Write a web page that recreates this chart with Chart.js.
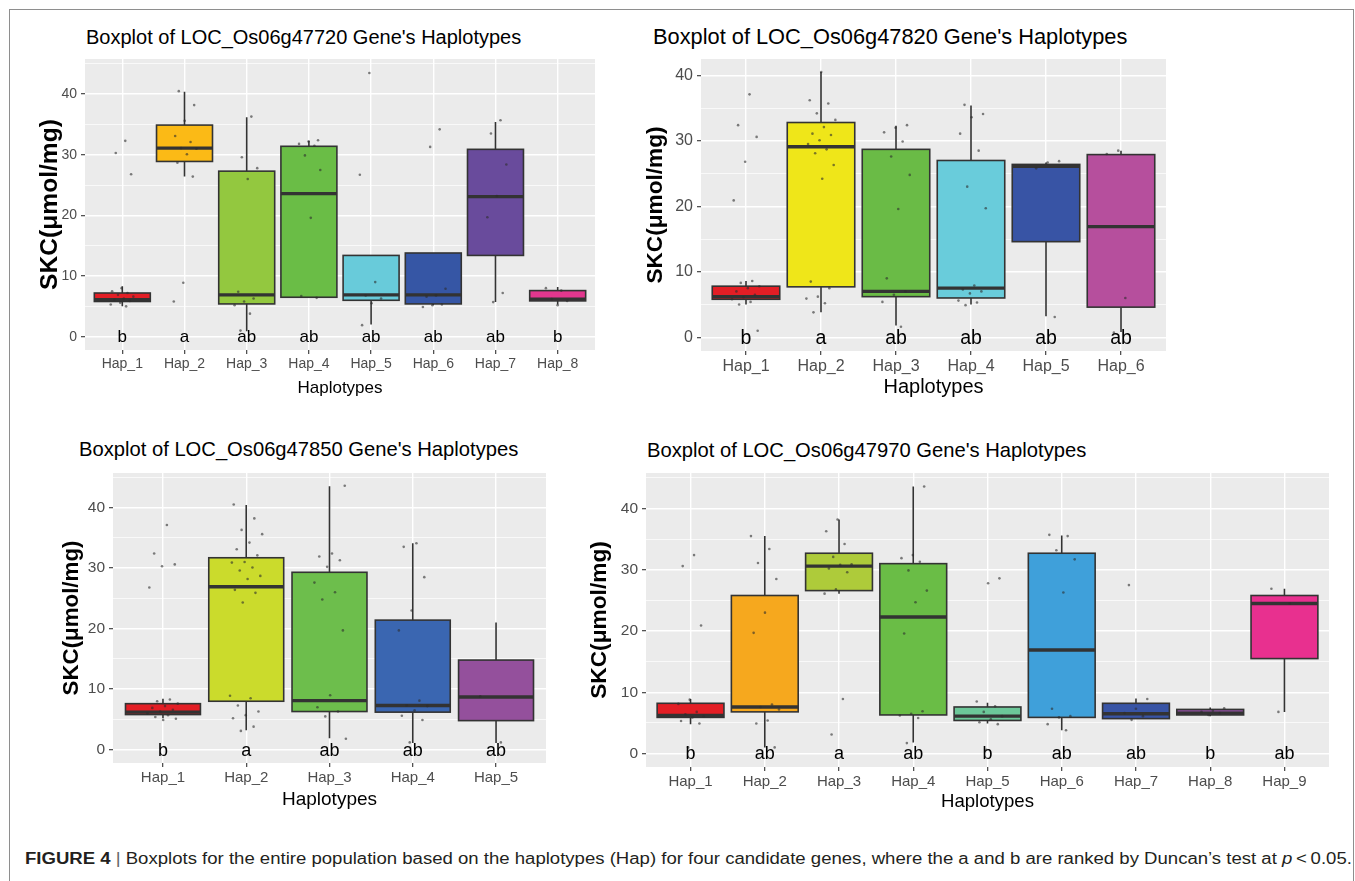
<!DOCTYPE html>
<html>
<head>
<meta charset="utf-8">
<script src="https://cdn.jsdelivr.net/npm/chart.js@4.4.0/dist/chart.umd.min.js"></script>
<style>
  body { margin: 0; background: #fff; width: 1355px; height: 881px; overflow: hidden; position: relative;
         font-family: "Liberation Sans", Arial, sans-serif; }
  .frame { position: absolute; left: 9px; top: 9px; width: 1345px; height: 900px; border: 1px solid #8e8e8e; box-sizing: border-box; }
  canvas { position: absolute; }
  .title { position: absolute; white-space: nowrap; color: #000; line-height: 1; }
  #caption { position: absolute; left: 25px; top: 851px; white-space: nowrap; font-size: 16px; line-height: 1;
             color: #231f20; transform-origin: 0 0; }
  #caption .bar { color: #666; }
</style>
</head>
<body>
<div class="frame"></div>

<div class="title" style="left:86px;top:27px;font-size:20px">Boxplot of LOC_Os06g47720 Gene's Haplotypes</div>
<div class="title" style="left:653px;top:26px;font-size:21.8px">Boxplot of LOC_Os06g47820 Gene's Haplotypes</div>
<div class="title" style="left:79px;top:439px;font-size:20.2px">Boxplot of LOC_Os06g47850 Gene's Haplotypes</div>
<div class="title" style="left:647px;top:440px;font-size:20.2px">Boxplot of LOC_Os06g47970 Gene's Haplotypes</div>

<canvas id="c1" width="570" height="380" style="left:30px;top:20px"></canvas>
<canvas id="c2" width="544" height="380" style="left:636px;top:20px"></canvas>
<canvas id="c3" width="510" height="385" style="left:50px;top:430px"></canvas>
<canvas id="c4" width="765" height="385" style="left:580px;top:430px"></canvas>

<div id="caption"><b>FIGURE 4</b>&nbsp;<span class="bar">|</span>&nbsp;Boxplots for the entire population based on the haplotypes (Hap) for four candidate genes, where the a and b are ranked by Duncan’s test at <i>p</i>&thinsp;&lt;&thinsp;0.05.</div>

<script>
Chart.defaults.font.family = '"Liberation Sans", Arial, sans-serif'

// ---- data ----
const haps8 = ['Hap_1', 'Hap_2', 'Hap_3', 'Hap_4', 'Hap_5', 'Hap_6', 'Hap_7', 'Hap_8']
const haps6 = ['Hap_1', 'Hap_2', 'Hap_3', 'Hap_4', 'Hap_5', 'Hap_6']
const haps5 = ['Hap_1', 'Hap_2', 'Hap_3', 'Hap_4', 'Hap_5']
const haps9 = ['Hap_1', 'Hap_2', 'Hap_3', 'Hap_4', 'Hap_5', 'Hap_6', 'Hap_7', 'Hap_8', 'Hap_9']
const yTicks = [0, 10, 20, 30, 40]

// LOC_Os06g47720
const g720Low = [5.0, 26.4, 0.9, 6.4, 2.0, 5.2, 5.7, 5.3]
const g720Q1 = [5.8, 28.9, 5.4, 6.5, 6.0, 5.4, 13.4, 5.9]
const g720Med = [6.1, 31.1, 6.9, 23.6, 6.9, 6.9, 23.1, 6.2]
const g720Q3 = [7.2, 34.9, 27.3, 31.4, 13.4, 13.8, 30.9, 7.6]
const g720High = [8.3, 40.4, 36.2, 32.3, 13.4, 13.8, 35.4, 8.2]
const g720Letters = ['b', 'a', 'ab', 'ab', 'ab', 'ab', 'ab', 'b']
const g720Points = [
    [32.3, 30.3, 26.8, 8.0, 7.5, 7.2, 6.9, 6.6, 6.3, 6.1, 5.9, 5.6, 5.3, 5.0],
    [40.5, 38.2, 35.6, 33.1, 32.1, 31.1, 31.0, 30.1, 28.7, 26.4, 8.9, 5.8],
    [36.3, 29.6, 27.8, 26.0, 7.4, 6.3, 5.8, 5.2, 3.8, 1.0],
    [32.4, 32.2, 31.8, 31.5, 29.9, 27.5, 19.6, 6.7, 6.4],
    [43.5, 26.7, 9.0, 6.8, 6.3, 5.5, 1.9],
    [34.2, 31.3, 7.9, 6.8, 6.6, 5.3, 5.2, 4.9],
    [35.7, 33.5, 28.4, 23.2, 19.7, 7.2, 5.7],
    [8.0, 7.6, 6.2, 5.9, 5.2]
]

// LOC_Os06g47820
const g820Low = [5.0, 3.8, 1.8, 5.0, 3.2, 0.8]
const g820Q1 = [5.8, 7.7, 6.2, 6.0, 14.6, 4.6]
const g820Med = [6.2, 29.1, 7.0, 7.5, 26.1, 16.9]
const g820Q3 = [7.8, 32.8, 28.7, 27.0, 26.4, 27.9]
const g820High = [8.6, 40.5, 32.3, 35.4, 26.7, 28.5]
const g820Letters = ['b', 'a', 'ab', 'ab', 'ab', 'ab']
const g820Points = [
    [37.1, 32.4, 30.6, 26.8, 20.9, 8.6, 8.3, 7.8, 7.5, 7.0, 6.5, 6.1, 5.8, 5.4, 5.0, 1.0],
    [40.5, 36.2, 35.7, 34.2, 33.2, 32.1, 31.1, 30.9, 30.1, 29.5, 28.7, 28.1, 26.3, 24.2, 8.5, 7.5, 6.2, 5.9, 5.2, 3.8],
    [32.4, 32.0, 31.3, 29.9, 27.6, 24.8, 19.6, 9.0, 7.0, 6.5, 5.4, 1.6],
    [35.5, 34.1, 33.6, 31.1, 28.5, 23.0, 19.7, 7.9, 7.3, 7.0, 6.7, 5.6, 5.3, 4.9],
    [26.9, 26.7, 25.8, 3.1],
    [28.5, 28.0, 6.0, 0.7]
]

// LOC_Os06g47850
const g850Low = [5.2, 3.2, 1.9, 1.1, 1.1]
const g850Q1 = [5.8, 8.0, 6.3, 6.2, 4.8]
const g850Med = [6.2, 26.9, 8.1, 7.3, 8.7]
const g850Q3 = [7.6, 31.7, 29.3, 21.4, 14.8]
const g850High = [8.4, 40.4, 43.5, 34.1, 21.0]
const g850Letters = ['b', 'a', 'ab', 'ab', 'ab']
const g850Points = [
    [37.1, 32.4, 30.6, 30.3, 26.8, 8.3, 8.0, 7.6, 7.2, 6.9, 6.6, 6.3, 6.0, 5.7, 5.4, 5.1, 4.9],
    [40.5, 38.2, 36.3, 35.6, 34.2, 33.1, 32.1, 31.0, 30.9, 30.1, 29.6, 28.7, 28.2, 26.4, 25.9, 24.3, 8.9, 8.5, 7.3, 6.3, 5.7, 5.2, 3.8, 3.1],
    [43.6, 32.4, 31.9, 31.3, 30.2, 27.6, 26.0, 24.8, 19.7, 9.0, 7.0, 6.3, 5.5, 1.8],
    [34.1, 33.5, 28.5, 23.0, 19.7, 8.1, 7.3, 7.2, 6.5, 5.6, 4.9, 1.2],
    [8.8, 1.2]
]

// LOC_Os06g47970
const g970Low = [4.8, 1.0, 26.1, 1.8, 4.9, 3.8, 5.7, 6.1, 6.8]
const g970Q1 = [5.9, 6.8, 26.6, 6.3, 5.4, 5.9, 5.7, 6.3, 15.5]
const g970Med = [6.2, 7.6, 30.6, 22.3, 6.1, 16.9, 6.5, 6.6, 24.5]
const g970Q3 = [8.2, 25.8, 32.7, 31.0, 7.6, 32.7, 8.2, 7.2, 25.8]
const g970High = [8.9, 35.5, 38.2, 43.6, 8.3, 35.6, 9.0, 7.5, 26.9]
const g970Letters = ['b', 'ab', 'a', 'ab', 'b', 'ab', 'ab', 'b', 'ab']
const g970Points = [
    [32.4, 30.6, 20.9, 8.8, 8.1, 6.8, 6.4, 6.1, 5.9, 5.3, 4.9, 1.0],
    [35.5, 33.4, 31.1, 28.5, 23.0, 19.7, 8.0, 7.6, 7.2, 5.4, 4.9, 1.0],
    [38.2, 36.3, 34.2, 32.1, 30.9, 30.8, 30.2, 29.6, 26.8, 26.1, 8.9, 3.1],
    [43.6, 32.4, 31.9, 31.3, 29.9, 26.6, 24.7, 19.6, 6.9, 6.5, 6.2, 5.8, 1.7],
    [28.6, 27.8, 8.5, 7.7, 6.8, 6.1, 5.6, 5.1, 4.8, 0.6],
    [35.7, 35.5, 33.2, 31.7, 26.3, 7.3, 6.1, 5.9, 4.8, 3.8],
    [27.5, 8.9, 7.3, 6.6, 6.1, 5.5],
    [7.4, 7.0, 6.8, 6.6, 6.3],
    [26.9, 24.5, 6.8]
]

// fill colours
const red = '#E31E25'
const g720Colors = [red, '#FBBA16', '#93C83F', '#6ABD46', '#68CBDA', '#3656A5', '#694B9C', '#E2378E']
const g820Colors = [red, '#EFE619', '#6ABB46', '#69CCDB', '#3854A5', '#B64F9D']
const g850Colors = [red, '#CBDB2C', '#6DBE4C', '#3A66B1', '#94509C']
const g970Colors = [red, '#F6A81E', '#AECB3A', '#6ABD46', '#6CC799', '#3FA0DA', '#3854A5', '#8E4F9E', '#E8308F']

// is the narrow face installed? (axis titles are condensed in the figure)
function hasFont(name) {
    const ctx = document.createElement('canvas').getContext('2d')
    const s = 'SKC(mol/mg) Hap_1 wwwiii'
    ctx.font = '40px monospace'
    const a = ctx.measureText(s).width
    ctx.font = '40px "' + name + '", monospace'
    return Math.abs(ctx.measureText(s).width - a) > 1
}
const NARROW = hasFont('Liberation Sans Narrow')
const yTitleFamily = NARROW ? '"Liberation Sans Narrow", "Liberation Sans", sans-serif' : '"Liberation Sans", sans-serif'
const yTitleScale = NARROW ? 1 : 0.82

// spread of the jittered dots (ggplot geom_jitter look), deterministic
const jitter = k => ((((k + 1) * 0.6180339887) % 1) - 0.5) * 0.4

// draws boxes, whiskers, medians and the Duncan letters through the chart's scales
function boxPlugin(s) {
    return {
        id: 'boxes',
        beforeDraw(chart) {
            const { ctx, chartArea: a } = chart
            ctx.save()
            ctx.fillStyle = '#EBEBEB'
            ctx.fillRect(a.left, a.top, a.right - a.left, a.bottom - a.top)
            ctx.restore()
        },
        beforeDatasetsDraw(chart) {
            const { ctx, scales: { x, y } } = chart
            ctx.save()
            ctx.strokeStyle = '#333333'
            s.q1.forEach((q1, i) => {
                const xc = x.getPixelForValue(i)
                const xl = x.getPixelForValue(i - 0.45)
                const xr = x.getPixelForValue(i + 0.45)
                const yLow = y.getPixelForValue(s.low[i])
                const yQ1 = y.getPixelForValue(q1)
                const yMed = y.getPixelForValue(s.med[i])
                const yQ3 = y.getPixelForValue(s.q3[i])
                const yHigh = y.getPixelForValue(s.high[i])
                // whiskers
                ctx.lineWidth = 1.6
                ctx.beginPath()
                ctx.moveTo(xc, yHigh); ctx.lineTo(xc, yQ3)
                ctx.moveTo(xc, yQ1); ctx.lineTo(xc, yLow)
                ctx.stroke()
                // box
                ctx.fillStyle = s.colors[i]
                ctx.fillRect(xl, yQ3, xr - xl, yQ1 - yQ3)
                ctx.lineWidth = 1.6
                ctx.strokeRect(xl, yQ3, xr - xl, yQ1 - yQ3)
                // median
                ctx.lineWidth = 3.4
                ctx.beginPath()
                ctx.moveTo(xl, yMed); ctx.lineTo(xr, yMed)
                ctx.stroke()
            })
            ctx.restore()
        },
        afterDatasetsDraw(chart) {
            const { ctx, scales: { x, y } } = chart
            ctx.save()
            ctx.fillStyle = '#000'
            ctx.font = s.letterSize + 'px "Liberation Sans", Arial, sans-serif'
            ctx.textAlign = 'center'
            ctx.textBaseline = 'middle'
            s.letters.forEach((t, i) => {
                ctx.fillText(t, x.getPixelForValue(i), y.getPixelForValue(0) + 1)
            })
            ctx.restore()
        }
    }
}

function makePanel(p) {
    const n = p.cats.length
    const pts = []
    let k = 0
    p.points.forEach((vals, i) => {
        vals.forEach(v => { pts.push({ x: i + jitter(k), y: v }); k++ })
    })

    const [pl, pt, pr, pb] = p.plot
    const ySize = p.ytitle * yTitleScale
    const yPad = p.yt - p.left - ySize * 0.6
    const xPad = p.top + p.h - p.xt - p.xtitle * 0.6
    const major = ctx => ctx.tick && yTicks.includes(ctx.tick.value)

    new Chart(document.getElementById(p.id), {
        type: 'scatter',
        data: {
            datasets: [{
                data: pts,
                pointRadius: 1.3,
                pointBorderWidth: 0,
                pointBackgroundColor: 'rgba(45,45,45,0.6)'
            }]
        },
        options: {
            responsive: false,
            animation: false,
            events: [],
            layout: { padding: { top: pt - p.top, right: p.left + p.w - pr, left: 0, bottom: 0 } },
            plugins: { legend: { display: false }, tooltip: { enabled: false } },
            scales: {
                x: {
                    type: 'linear',
                    min: -0.6,
                    max: n - 0.4,
                    afterFit: scale => { scale.height = p.top + p.h - pb },
                    border: { display: false },
                    grid: { color: '#FFFFFF', lineWidth: 1.4, tickColor: '#333333', tickLength: 4, tickWidth: 1.1 },
                    ticks: {
                        stepSize: 1,
                        includeBounds: false,
                        autoSkip: false,
                        maxRotation: 0,
                        padding: 2,
                        color: '#4D4D4D',
                        font: { size: p.tick },
                        callback: v => p.cats[v] ?? ''
                    },
                    title: {
                        display: true,
                        text: 'Haplotypes',
                        color: '#000',
                        font: { size: p.xtitle },
                        padding: { top: 0, bottom: xPad }
                    }
                },
                y: {
                    min: p.ymin,
                    max: p.ymax,
                    afterFit: scale => { scale.width = pl - p.left },
                    border: { display: false },
                    grid: {
                        color: '#FFFFFF',
                        lineWidth: ctx => major(ctx) ? 1.4 : 0.7,
                        tickColor: ctx => major(ctx) ? '#333333' : 'rgba(0,0,0,0)',
                        tickLength: 4,
                        tickWidth: 1.1
                    },
                    ticks: {
                        stepSize: 5,
                        includeBounds: false,
                        autoSkip: false,
                        padding: 4,
                        color: '#4D4D4D',
                        font: { size: p.ytick },
                        callback: v => yTicks.includes(v) ? String(v) : ''
                    },
                    title: {
                        display: true,
                        text: 'SKC(μmol/mg)',
                        color: '#000',
                        font: { family: yTitleFamily, size: ySize, weight: 'bold' },
                        padding: { top: yPad, bottom: 0 }
                    }
                }
            }
        },
        plugins: [boxPlugin({
            low: p.low, q1: p.q1, med: p.med, q3: p.q3, high: p.high,
            letters: p.letters, colors: p.colors, letterSize: p.letter
        })]
    })
}

makePanel({
    id: 'c1', left: 30, top: 20, w: 570, h: 380, plot: [85, 59, 595, 350],
    yt: 50, xt: 388, ymin: -2.2, ymax: 45.8,
    tick: 14, ytick: 14, letter: 17, xtitle: 17, ytitle: 30,
    cats: haps8, low: g720Low, q1: g720Q1, med: g720Med, q3: g720Q3, high: g720High,
    letters: g720Letters, points: g720Points, colors: g720Colors
})
makePanel({
    id: 'c2', left: 636, top: 20, w: 544, h: 380, plot: [701, 59, 1166, 351],
    yt: 656, xt: 387, ymin: -2.1, ymax: 42.5,
    tick: 16, ytick: 16, letter: 19.5, xtitle: 20, ytitle: 27.6,
    cats: haps6, low: g820Low, q1: g820Q1, med: g820Med, q3: g820Q3, high: g820High,
    letters: g820Letters, points: g820Points, colors: g820Colors
})
makePanel({
    id: 'c3', left: 50, top: 430, w: 510, h: 385, plot: [113, 473, 546, 763],
    yt: 72, xt: 800, ymin: -2.2, ymax: 45.7,
    tick: 15, ytick: 15.5, letter: 18, xtitle: 19, ytitle: 27.2,
    cats: haps5, low: g850Low, q1: g850Q1, med: g850Med, q3: g850Q3, high: g850High,
    letters: g850Letters, points: g850Points, colors: g850Colors
})
makePanel({
    id: 'c4', left: 580, top: 430, w: 765, h: 385, plot: [646, 473, 1329, 767],
    yt: 600, xt: 802, ymin: -2.2, ymax: 45.8,
    tick: 15, ytick: 15.5, letter: 18, xtitle: 18.6, ytitle: 27.7,
    cats: haps9, low: g970Low, q1: g970Q1, med: g970Med, q3: g970Q3, high: g970High,
    letters: g970Letters, points: g970Points, colors: g970Colors
})

// stretch the caption to the measured line width
const cap = document.getElementById('caption')
cap.style.transform = 'scaleX(' + (1327 / cap.offsetWidth) + ')'
</script>
</body>
</html>
